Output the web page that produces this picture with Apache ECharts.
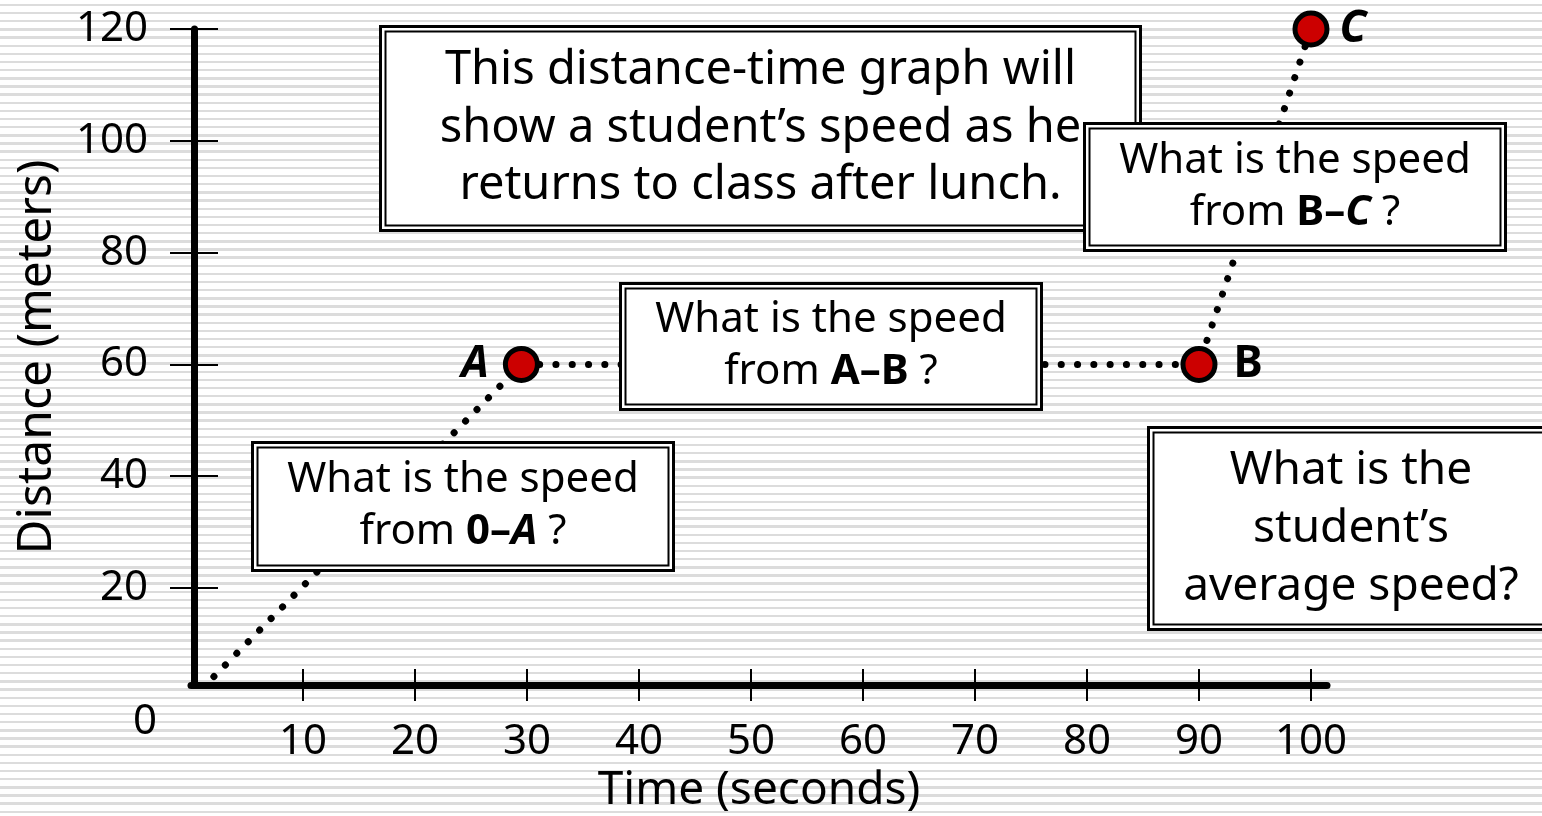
<!DOCTYPE html>
<html><head><meta charset="utf-8">
<script src="https://cdn.jsdelivr.net/npm/echarts@6/dist/echarts.min.js"></script>
<style>
html,body{margin:0;padding:0;background:#fff;}
#c{width:1542px;height:816px;background:repeating-linear-gradient(to bottom,#fff 0px,#fff 3.8px,#dcdcdc 3.8px,#dcdcdc 6.2px,#fff 6.2px,#fff 8.15px);}
</style></head><body><div id="c"></div>
<script>
// ---- data ----
const timeSec = [0, 29.5, 90, 100];
const distanceM = [0, 60, 60, 120];
const pointNames = ['', 'A', 'B', 'C'];
const xTicks = [10, 20, 30, 40, 50, 60, 70, 80, 90, 100];
const yTicks = [20, 40, 60, 80, 100, 120];
const originLabel = '0';
const xName = 'Time (seconds)';
const yName = 'Distance (meters)';
const titleText = 'This distance-time graph will\nshow a student\u2019s speed as he\nreturns to class after lunch.';
const qOA = 'What is the speed\nfrom {b|0\u2013}{bi|A} ?';
const qAB = 'What is the speed\nfrom {b|A\u2013B} ?';
const qBC = 'What is the speed\nfrom {b|B\u2013}{bi|C} ?';
const qAvg = 'What is the\nstudent\u2019s\naverage speed?';

const FONT = "'Noto Sans', sans-serif";
const chart = echarts.init(document.getElementById('c'), null, {renderer: 'canvas'});

const labelPos = {A: ['left', 14, 'italic'], B: ['right', 16, 'normal'], C: ['right', 10, 'italic']};
const seriesData = timeSec.map((t, i) => {
  const n = pointNames[i];
  if (!n) return {value: [t, distanceM[i]], symbol: 'none'};
  return {
    value: [t, distanceM[i]], name: n,
    label: {show: true, position: labelPos[n][0], distance: labelPos[n][1], formatter: n,
      fontSize: 44, fontWeight: 'bold', fontStyle: labelPos[n][2], fontFamily: FONT, color: '#000'}
  };
});

function box(x0, y0, x1, y1, text, fs, lh, zb) {
  const w = x1 - x0, h = y1 - y0;
  const rich = {
    b: {fontSize: fs, fontWeight: 'bold', fontFamily: FONT, lineHeight: lh, fill: '#000'},
    bi: {fontSize: fs, fontWeight: 'bold', fontStyle: 'italic', fontFamily: FONT, lineHeight: lh, fill: '#000'}
  };
  return {
    type: 'group', z: zb,
    children: [
      {type: 'rect', z: zb, shape: {x: x0 + 1.5, y: y0 + 1.5, width: w - 3, height: h - 3},
        style: {fill: '#fff', stroke: '#000', lineWidth: 3}},
      {type: 'rect', z: zb + 1, shape: {x: x0 + 6.5, y: y0 + 6.5, width: w - 13, height: h - 13},
        style: {fill: 'none', stroke: '#000', lineWidth: 2}},
      {type: 'text', z: zb + 2, x: (x0 + x1) / 2, y: (y0 + y1) / 2,
        style: {text: text, rich: rich, fontSize: fs, fontFamily: FONT, lineHeight: lh,
          fill: '#000', align: 'center', verticalAlign: 'middle'}}
    ]
  };
}

const axisFont = {fontSize: 42, fontFamily: FONT, color: '#000'};

const option = {
  backgroundColor: 'transparent',
  animation: false,
  grid: {left: 191, right: 215, top: 29, bottom: 131, containLabel: false, outerBoundsMode: 'none'},
  xAxis: [{
    type: 'value', position: 'bottom', min: 0, max: 101.43,
    axisLine: {show: true, onZero: false, lineStyle: {color: '#000', width: 7}},
    axisTick: {show: true, customValues: xTicks, length: 16, lineStyle: {color: '#000', width: 2}},
    axisLabel: Object.assign({show: true, customValues: xTicks, margin: 36}, axisFont),
    splitLine: {show: false},
    name: xName, nameLocation: 'middle', nameGap: 79,
    nameTextStyle: {fontSize: 46, fontFamily: FONT, color: '#000'}
  }, {
    type: 'value', position: 'bottom', min: 0, max: 101.43,
    axisLine: {show: false, onZero: false},
    axisTick: {show: true, inside: true, customValues: xTicks, length: 16, lineStyle: {color: '#000', width: 2}},
    axisLabel: {show: false}, splitLine: {show: false}
  }],
  yAxis: [{
    type: 'value', position: 'left', min: 2.65, max: 120, offset: -3,
    axisLine: {show: true, onZero: false, lineStyle: {color: '#000', width: 7}},
    axisTick: {show: true, customValues: yTicks, length: 24, lineStyle: {color: '#000', width: 2}},
    axisLabel: Object.assign({show: true, customValues: yTicks, margin: 46}, axisFont),
    splitLine: {show: false},
    name: yName, nameLocation: 'middle', nameGap: 133, nameRotate: 90,
    nameTextStyle: {fontSize: 48, fontFamily: FONT, color: '#000'}
  }, {
    type: 'value', position: 'left', min: 2.65, max: 120, offset: -3,
    axisLine: {show: false, onZero: false},
    axisTick: {show: true, inside: true, customValues: yTicks, length: 24, lineStyle: {color: '#000', width: 2}},
    axisLabel: {show: false}, splitLine: {show: false}
  }],
  series: [{
    type: 'line', xAxisIndex: 0, yAxisIndex: 0,
    data: seriesData, clip: true,
    symbol: 'circle', symbolSize: 32,
    itemStyle: {color: '#cc0000', borderColor: '#000', borderWidth: 5},
    lineStyle: {color: '#000', width: 7, type: [0.1, 16.2], cap: 'round'},
    z: 3
  }],
  graphic: [
    box(379, 25, 1142, 232, titleText, 47, 57.5, 100),
    box(619, 282, 1043, 411, qAB, 42, 52, 110),
    box(251, 441, 675, 572, qOA, 42, 52, 120),
    box(1083, 122, 1507, 252, qBC, 42, 52, 130),
    box(1147, 426, 1555, 631, qAvg, 46, 58, 140)
  ]
};
chart.setOption(option);

const o = chart.convertToPixel({xAxisIndex: 0, yAxisIndex: 0}, [0, 0]);
chart.setOption({graphic: option.graphic.concat([{
  type: 'text', x: o[0] - 46, y: o[1] + 22, z: 150,
  style: {text: originLabel, fontSize: 42, fontFamily: FONT, fill: '#000', align: 'center', verticalAlign: 'middle'}
}])});
</script></body></html>
